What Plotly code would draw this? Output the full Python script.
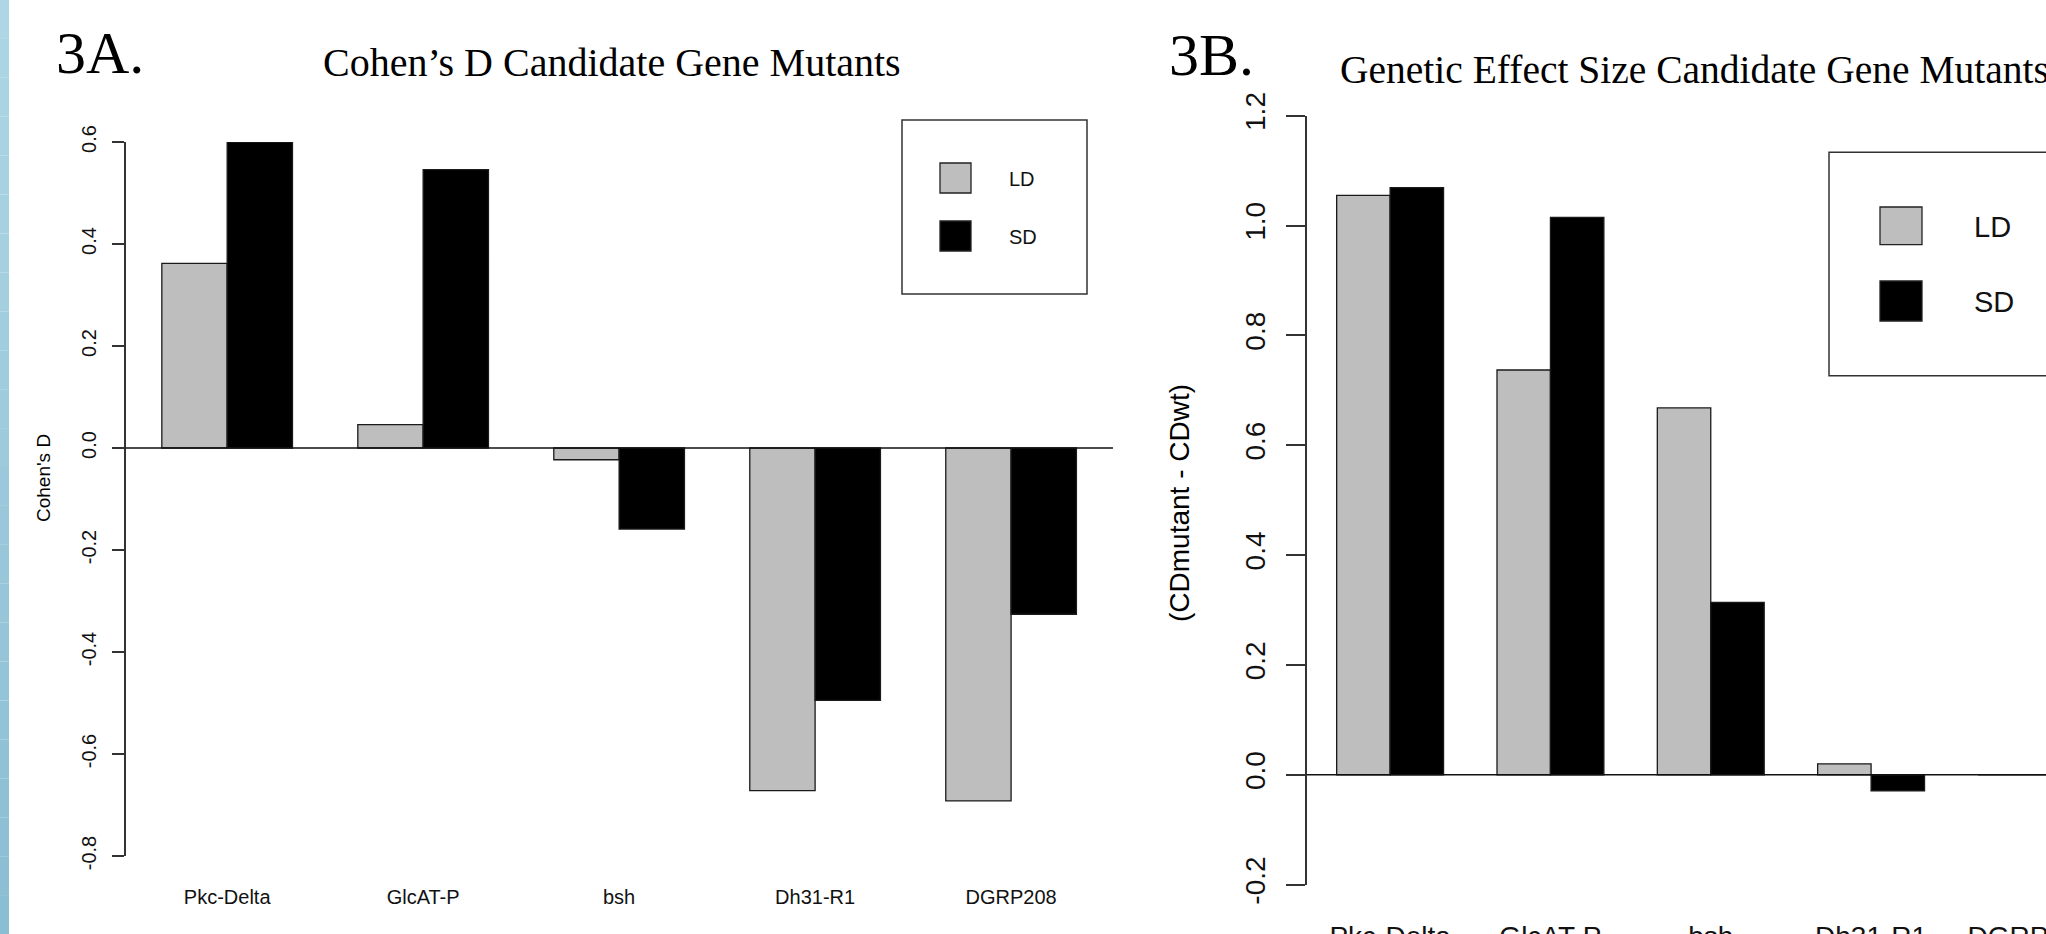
import plotly.graph_objects as go

# ---------------- data ----------------
genes = ["Pkc-Delta", "GlcAT-P", "bsh", "Dh31-R1", "DGRP208"]
series_names = ["LD", "SD"]
cohens_d_ld = [0.362, 0.046, -0.023, -0.672, -0.692]
cohens_d_sd = [0.600, 0.546, -0.159, -0.495, -0.326]
effect_ld = [1.055, 0.737, 0.668, 0.020, 0.0]
effect_sd = [1.069, 1.015, 0.314, -0.029, 0.0]
left_ticks = [-0.8, -0.6, -0.4, -0.2, 0.0, 0.2, 0.4, 0.6]
right_ticks = [-0.2, 0.0, 0.2, 0.4, 0.6, 0.8, 1.0, 1.2]
bar_colors = ["#bebebe", "#000000"]

W, H = 2046, 934
SANS = "Liberation Sans, Arial, sans-serif"
SERIF = "Liberation Serif, Times New Roman, serif"
AX = "#333333"


def px(x):
    return x / W


def py(y):
    return 1 - y / H


fig = go.Figure()

for name, vals, col in zip(series_names, [cohens_d_ld, cohens_d_sd], bar_colors):
    fig.add_trace(go.Bar(x=genes, y=vals, name=name, xaxis="x", yaxis="y",
                         marker=dict(color=col, line=dict(color="#1a1a1a", width=1.3)),
                         showlegend=False))
for name, vals, col in zip(series_names, [effect_ld, effect_sd], bar_colors):
    fig.add_trace(go.Bar(x=genes, y=vals, name=name, xaxis="x2", yaxis="y2",
                         marker=dict(color=col, line=dict(color="#1a1a1a", width=1.3)),
                         showlegend=False))

common_y = dict(showgrid=False, zeroline=False, showline=True, linecolor=AX, linewidth=1.5,
                ticks="outside", tickcolor=AX, tickwidth=1.5, tickangle=-90, automargin=False)
common_x = dict(type="category", showgrid=False, zeroline=False, showline=False, ticks="",
                tickvals=genes, ticktext=genes, automargin=False)

fig.update_layout(
    template="none",
    width=W, height=H,
    margin=dict(l=0, r=0, t=0, b=0, pad=0, autoexpand=False),
    paper_bgcolor="white", plot_bgcolor="white",
    barmode="group", bargap=1 / 3, bargroupgap=0,
    xaxis=dict(domain=[px(125.5), px(1113)], range=[-0.5187, 4.52], anchor="y",
               tickfont=dict(family=SANS, size=20, color="#111"), ticklabelstandoff=27,
               **common_x),
    yaxis=dict(domain=[py(856), py(142)], range=[-0.8, 0.6], anchor="x",
               tickvals=left_ticks, ticktext=["%.1f" % t for t in left_ticks],
               ticklen=12, tickfont=dict(family=SANS, size=20, color="#111"),
               ticklabelstandoff=8, **common_y),
    xaxis2=dict(domain=[px(1306.7), 1.0], range=[-0.5203, 4.091], anchor="y2",
                tickfont=dict(family=SANS, size=28, color="#111"), ticklabelstandoff=32,
                **common_x),
    yaxis2=dict(domain=[py(884.7), py(115.7)], range=[-0.2, 1.2], anchor="x2",
                tickvals=right_ticks, ticktext=["%.1f" % t for t in right_ticks],
                ticklen=19, tickfont=dict(family=SANS, size=28, color="#111"),
                ticklabelstandoff=10, **common_y),
)

shapes = []
# zero reference lines
for xr, yr in [("x domain", "y"), ("x2 domain", "y2")]:
    shapes.append(dict(type="line", xref=xr, yref=yr, x0=0, x1=1, y0=0, y1=0,
                       line=dict(color="#111", width=1.5), layer="above"))

# left decorative gradient stripe
n = 24
c0 = (174, 214, 228)
c1 = (138, 190, 210)
for i in range(n):
    t = i / (n - 1)
    c = tuple(int(round(c0[k] + (c1[k] - c0[k]) * t)) for k in range(3))
    shapes.append(dict(type="rect", xref="paper", yref="paper", x0=0, x1=px(9),
                       y0=py(H * (i + 1) / n), y1=py(H * i / n),
                       fillcolor="rgb(%d,%d,%d)" % c, line=dict(width=0), layer="below"))

annotations = []


def legend(box, sw_x, sw_ys, text_x, text_ys, fsize):
    shapes.append(dict(type="rect", xref="paper", yref="paper", x0=px(box[0]), x1=px(box[1]),
                       y0=py(box[3]), y1=py(box[2]), line=dict(color=AX, width=1.5),
                       fillcolor="white"))
    for (y0, y1), col, name, ty in zip(sw_ys, bar_colors, series_names, text_ys):
        shapes.append(dict(type="rect", xref="paper", yref="paper", x0=px(sw_x[0]), x1=px(sw_x[1]),
                           y0=py(y1), y1=py(y0), fillcolor=col,
                           line=dict(color="#222", width=1.3)))
        annotations.append(dict(xref="paper", yref="paper", x=px(text_x), y=py(ty),
                                xanchor="left", yanchor="middle", showarrow=False, text=name,
                                font=dict(family=SANS, size=fsize, color="#111")))


legend((902, 1087, 120, 294), (940, 971), [(163, 193), (221, 251)], 1007, [179, 237], 20)
legend((1829, 2080, 152.3, 375.7), (1880, 1922), [(207, 244.7), (281, 321)], 1972, [227, 302], 29)


def text(x, y, s, size, family, anchor="left", angle=0):
    annotations.append(dict(xref="paper", yref="paper", x=px(x), y=py(y), text=s,
                            xanchor=anchor, yanchor="middle", showarrow=False, textangle=angle,
                            font=dict(family=family, size=size, color="black")))


text(54, 53, "3A.", 60, SERIF)
text(612, 62, "Cohen’s D Candidate Gene Mutants", 40, SERIF, anchor="center")
text(1167, 55, "3B.", 60, SERIF)
text(1338, 70, "Genetic Effect Size Candidate Gene Mutants", 39.5, SERIF)
text(43, 478, "Cohen's D", 19, SANS, anchor="center", angle=-90)
text(1180, 503, "(CDmutant - CDwt)", 28, SANS, anchor="center", angle=-90)

fig.update_layout(shapes=shapes, annotations=annotations)
fig.write_html("out.html", config={"displayModeBar": False},
               post_script="document.body.style.margin='0';document.body.style.padding='0';"
                           "document.body.style.overflow='hidden';")
